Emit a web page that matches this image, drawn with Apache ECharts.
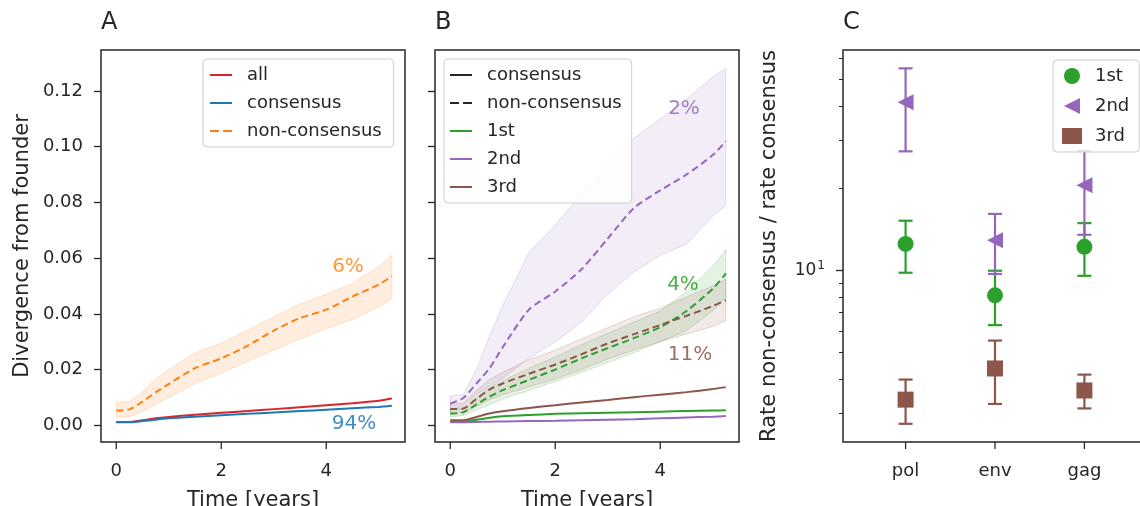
<!DOCTYPE html>
<html>
<head>
<meta charset="utf-8">
<script src="https://cdn.jsdelivr.net/npm/echarts@6/dist/echarts.min.js"></script>
<style>
  html, body { margin: 0; padding: 0; background: #fff; }
  #chart { width: 1140px; height: 506px; }
</style>
</head>
<body>
<div id="chart"></div>
<script>
// shared axes
const years = [0, 0.25, 0.5, 0.75, 1, 1.5, 2, 2.5, 3, 3.5, 4, 4.5, 5, 5.25];
const timeTicks = [0, 2, 4];
const divTicks = [0, 0.02, 0.04, 0.06, 0.08, 0.1, 0.12];
const timeRange = [-0.29, 5.5];
const divRange = [-0.006, 0.1347];

// panel A
const allMean = [0.0012, 0.0012, 0.0018, 0.0025, 0.003, 0.0038, 0.0045, 0.0051, 0.0058, 0.0065, 0.0072, 0.0079, 0.0088, 0.0096];
const consMean = [0.0011, 0.0011, 0.0015, 0.002, 0.0025, 0.0031, 0.0036, 0.0041, 0.0046, 0.0051, 0.0056, 0.0061, 0.0066, 0.007];
const nonConsMean = [0.0053, 0.0057, 0.0085, 0.0118, 0.0148, 0.0205, 0.024, 0.0285, 0.034, 0.0385, 0.0415, 0.0462, 0.0505, 0.0535];
const nonConsLo = [0.003, 0.0032, 0.005, 0.0075, 0.01, 0.015, 0.0187, 0.023, 0.027, 0.031, 0.0347, 0.038, 0.0425, 0.0455];
const nonConsHi = [0.0082, 0.0085, 0.012, 0.0165, 0.02, 0.026, 0.0295, 0.034, 0.039, 0.0435, 0.047, 0.051, 0.057, 0.061];

// panel B
const firstCons = [0.0013, 0.0013, 0.002, 0.0027, 0.0032, 0.0037, 0.0041, 0.0043, 0.0045, 0.0047, 0.0049, 0.0051, 0.0053, 0.0054];
const secondCons = [0.0011, 0.0011, 0.0012, 0.0013, 0.0014, 0.0015, 0.0016, 0.0018, 0.002, 0.0022, 0.0025, 0.0028, 0.0031, 0.0033];
const thirdCons = [0.0018, 0.0018, 0.003, 0.0042, 0.005, 0.0062, 0.0072, 0.0082, 0.0091, 0.0101, 0.011, 0.0119, 0.013, 0.0137];
const firstNon = [0.0042, 0.0047, 0.0075, 0.0103, 0.0126, 0.0163, 0.02, 0.024, 0.0277, 0.0313, 0.0352, 0.041, 0.049, 0.0545];
const firstNonLo = [0.003, 0.0035, 0.0055, 0.0075, 0.0095, 0.0125, 0.0158, 0.019, 0.0225, 0.026, 0.03, 0.034, 0.041, 0.046];
const firstNonHi = [0.0055, 0.0062, 0.01, 0.0135, 0.016, 0.0205, 0.0245, 0.029, 0.033, 0.037, 0.041, 0.048, 0.057, 0.063];
const secondNon = [0.0078, 0.0098, 0.015, 0.0205, 0.028, 0.0415, 0.048, 0.056, 0.067, 0.078, 0.0843, 0.09, 0.097, 0.102];
const secondNonLo = [0.0055, 0.007, 0.011, 0.014, 0.017, 0.024, 0.03, 0.037, 0.047, 0.055, 0.061, 0.065, 0.075, 0.079];
const secondNonHi = [0.0105, 0.011, 0.02, 0.032, 0.043, 0.062, 0.072, 0.083, 0.093, 0.103, 0.11, 0.117, 0.125, 0.128];
const thirdNon = [0.0058, 0.006, 0.0095, 0.0128, 0.015, 0.0185, 0.0218, 0.0255, 0.0294, 0.0327, 0.036, 0.0393, 0.0428, 0.0449];
const thirdNonLo = [0.0042, 0.0045, 0.0068, 0.0092, 0.011, 0.0138, 0.0166, 0.02, 0.0238, 0.027, 0.03, 0.0328, 0.0355, 0.0375];
const thirdNonHi = [0.0075, 0.008, 0.0125, 0.0165, 0.019, 0.0235, 0.027, 0.031, 0.035, 0.039, 0.042, 0.046, 0.05, 0.0525];

// panel C (ratio, log scale)
const subsets = ['pol', 'env', 'gag'];
const subsetTicks = [0, 1, 2];
const subsetRange = [-0.7, 2.7];
const ratioRange = [2.35, 64.2];
const ratioTicks = [10];
const ratioMinorTicks = [3, 4, 5, 6, 7, 8, 9, 20, 30, 40, 50, 60];
const firstRatio = [12.5, 8.1, 12.2];
const firstRatioLo = [9.8, 6.3, 9.55];
const firstRatioHi = [15.2, 9.97, 14.9];
const secondRatio = [41.3, 12.9, 20.5];
const secondRatioLo = [27.3, 9.7, 13.5];
const secondRatioHi = [55.0, 16.1, 27.4];
const thirdRatio = [3.36, 4.37, 3.63];
const thirdRatioLo = [2.74, 3.24, 3.12];
const thirdRatioHi = [3.98, 5.53, 4.15];

const ink = '#262626';
const RED = '#d62728', BLUE = '#1f77b4', ORANGE = '#ff7f0e';
const GREEN = '#2ca02c', PURPLE = '#9467bd', BROWN = '#8c564b';
const leftTri = 'path://M0,5 L10,0 L10,10 Z';
const solidIcon = 'path://M0,0 L22,0 L22,2 L0,2 Z';
const dashIcon = 'path://M0,0 L9,0 L9,2 L0,2 Z M13,0 L22,0 L22,2 L13,2 Z';

const zip = (xs, ys) => xs.map((x, i) => [x, ys[i]]);

function line(name, axis, ys, color, dashed) {
  return {
    name: name, type: 'line', xAxisIndex: axis, yAxisIndex: axis,
    data: zip(years, ys), symbol: 'none', smooth: 0.25, z: 3,
    color: color,
    lineStyle: { color: color, width: 2, type: dashed ? [7, 4] : 'solid' }
  };
}

// shaded spread between lo and hi, drawn as one polygon
function band(axis, lo, hi, color, opacity) {
  return {
    type: 'custom', xAxisIndex: axis, yAxisIndex: axis, silent: true, z: 1,
    data: years.map((t, i) => [t, lo[i], hi[i]]),
    encode: { x: 0, y: [1, 2] },
    renderItem: function (params, api) {
      if (params.dataIndex !== 0) return;
      const upper = years.map((t, i) => api.coord([t, hi[i]]));
      const lower = years.map((t, i) => api.coord([t, lo[i]])).reverse();
      return {
        type: 'polygon',
        shape: { points: upper.concat(lower) },
        style: {
          fill: echarts.color.modifyAlpha(color, opacity),
          stroke: echarts.color.modifyAlpha(color, 0.2),
          lineWidth: 1
        }
      };
    }
  };
}

// dummy series so legend B can show its own entries
function legendLine(name, color) {
  return {
    name: name, type: 'line', xAxisIndex: 1, yAxisIndex: 1, data: [], symbol: 'none', color: color,
    lineStyle: { color: color, width: 2 }
  };
}

function errorBars(name, lo, hi, color) {
  return {
    name: name, type: 'custom', xAxisIndex: 2, yAxisIndex: 2, silent: true, z: 2,
    data: subsets.map((s, i) => [i, lo[i], hi[i]]),
    encode: { x: 0, y: [1, 2] },
    renderItem: function (params, api) {
      const x = api.value(0);
      const top = api.coord([x, api.value(2)]);
      const bot = api.coord([x, api.value(1)]);
      const cap = 7;
      const style = { stroke: color, lineWidth: 2.2, fill: null };
      return {
        type: 'group',
        children: [
          { type: 'line', shape: { x1: top[0], y1: top[1], x2: bot[0], y2: bot[1] }, style: style },
          { type: 'line', shape: { x1: top[0] - cap, y1: top[1], x2: top[0] + cap, y2: top[1] }, style: style },
          { type: 'line', shape: { x1: bot[0] - cap, y1: bot[1], x2: bot[0] + cap, y2: bot[1] }, style: style }
        ]
      };
    }
  };
}

function markers(name, ys, symbol, color) {
  return {
    name: name, type: 'scatter', xAxisIndex: 2, yAxisIndex: 2, z: 3,
    data: subsets.map((s, i) => [i, ys[i]]),
    symbol: symbol, symbolSize: 16,
    itemStyle: { color: color, opacity: 1 }
  };
}

const tickStyle = () => ({ color: ink, width: 1.3 });

function timeAxis(gridIndex) {
  return {
    type: 'value', gridIndex: gridIndex, min: timeRange[0], max: timeRange[1],
    name: 'Time [years]', nameLocation: 'middle', nameGap: 48,
    nameTextStyle: { fontSize: 21, color: ink },
    axisLine: { show: false, onZero: false }, splitLine: { show: false },
    axisTick: { show: false },
    axisLabel: { fontSize: 18, color: ink, margin: 20, customValues: timeTicks }
  };
}

function divAxis(gridIndex, withLabels) {
  return {
    type: 'value', gridIndex: gridIndex, min: divRange[0], max: divRange[1],
    name: withLabels ? 'Divergence from founder' : '', nameLocation: 'middle', nameGap: 68,
    nameTextStyle: { fontSize: 21, color: ink },
    axisLine: { show: false, onZero: false }, splitLine: { show: false },
    axisTick: { length: 7, lineStyle: tickStyle(), customValues: divTicks },
    axisLabel: {
      show: withLabels, fontSize: 18, color: ink, margin: 18, customValues: divTicks,
      formatter: v => v.toFixed(2)
    }
  };
}

// tick-only axes for panel C
function ratioTickAxis(values, len) {
  return {
    type: 'log', gridIndex: 2, min: ratioRange[0], max: ratioRange[1], logBase: 10, position: 'left',
    axisLine: { show: false, onZero: false }, splitLine: { show: false },
    axisTick: { show: true, length: len, lineStyle: { color: ink, width: len > 5 ? 1.3 : 1 }, customValues: values },
    axisLabel: { show: false }
  };
}

const legendBase = {
  orient: 'vertical', itemGap: 10, itemWidth: 22, itemHeight: 2,
  backgroundColor: 'rgba(255,255,255,0.8)', borderColor: '#cccccc', borderWidth: 1, borderRadius: 4,
  textStyle: { fontSize: 18, lineHeight: 18, color: ink, padding: [0, 0, 0, 10] },
  formatter: name => name.indexOf(':') >= 0 ? name.split(':')[1] : name
};

const gridBase = { top: 50, width: 304, height: 392, show: true, borderColor: ink, borderWidth: 1.5, outerBoundsMode: 'none' };

const labels = [
  { type: 'text', left: 101, top: 11, style: { text: 'A', font: '24px "DejaVu Sans"', fill: ink } },
  { type: 'text', left: 435, top: 11, style: { text: 'B', font: '24px "DejaVu Sans"', fill: ink } },
  { type: 'text', left: 843, top: 11, style: { text: 'C', font: '24px "DejaVu Sans"', fill: ink } },
  { type: 'text', x: 348, y: 267, style: { text: '6%', font: '20px "DejaVu Sans"', fill: 'rgba(255,127,14,0.8)', align: 'center', verticalAlign: 'middle' } },
  { type: 'text', x: 354, y: 424, style: { text: '94%', font: '20px "DejaVu Sans"', fill: 'rgba(31,119,180,0.85)', align: 'center', verticalAlign: 'middle' } },
  { type: 'text', x: 684, y: 109, style: { text: '2%', font: '20px "DejaVu Sans"', fill: 'rgba(148,103,189,0.85)', align: 'center', verticalAlign: 'middle' } },
  { type: 'text', x: 683, y: 285, style: { text: '4%', font: '20px "DejaVu Sans"', fill: 'rgba(44,160,44,0.85)', align: 'center', verticalAlign: 'middle' } },
  { type: 'text', x: 690, y: 355, style: { text: '11%', font: '20px "DejaVu Sans"', fill: 'rgba(140,86,75,0.85)', align: 'center', verticalAlign: 'middle' } }
];

const chart = echarts.init(document.getElementById('chart'));
const option = {
  animation: false,
  backgroundColor: '#fff',
  textStyle: { fontFamily: 'DejaVu Sans', color: ink },
  grid: [
    Object.assign({ left: 101 }, gridBase),
    Object.assign({ left: 435 }, gridBase),
    Object.assign({ left: 843 }, gridBase)
  ],
  xAxis: [
    timeAxis(0),
    timeAxis(1),
    {
      type: 'value', gridIndex: 2, min: subsetRange[0], max: subsetRange[1], position: 'bottom',
      axisLine: { show: false, onZero: false }, splitLine: { show: false },
      axisTick: { show: false },
      axisLabel: { fontSize: 18, color: ink, margin: 20, customValues: subsetTicks, formatter: v => subsets[v] }
    }
  ],
  yAxis: [
    divAxis(0, true),
    divAxis(1, false),
    {
      type: 'log', gridIndex: 2, min: ratioRange[0], max: ratioRange[1], logBase: 10, position: 'left',
      name: 'Rate non-consensus / rate consensus', nameLocation: 'middle', nameGap: 63,
      nameTextStyle: { fontSize: 21, color: ink },
      axisLine: { show: false, onZero: false }, splitLine: { show: false },
      axisTick: { show: false },
      axisLabel: {
        fontSize: 17, color: ink, margin: 18, customValues: ratioTicks,
        formatter: () => '{b|10}{s|1}',
        rich: { b: { fontSize: 17, color: ink }, s: { fontSize: 12, color: ink, padding: [0, 0, 9, 1] } }
      }
    },
    ratioTickAxis(ratioMinorTicks, 4),
    ratioTickAxis(ratioTicks, 7)
  ],
  legend: [
    Object.assign({}, legendBase, {
      left: 203, top: 59, padding: [7, 12, 7, 7],
      data: [
        { name: 'all', icon: solidIcon },
        { name: 'consensus', icon: solidIcon },
        { name: 'non-consensus', icon: dashIcon }
      ]
    }),
    Object.assign({}, legendBase, {
      left: 444, top: 59, padding: [7, 10, 7, 6],
      data: [
        { name: 'B:consensus', icon: solidIcon },
        { name: 'B:non-consensus', icon: dashIcon },
        { name: 'B:1st', icon: solidIcon },
        { name: 'B:2nd', icon: solidIcon },
        { name: 'B:3rd', icon: solidIcon }
      ]
    }),
    Object.assign({}, legendBase, {
      left: 1053, top: 60, padding: [7, 10, 7, 9], itemWidth: 20, itemHeight: 16, itemGap: 12,
      textStyle: { fontSize: 18, lineHeight: 16, color: ink, padding: [0, 0, 0, 8] },
      data: ['C:1st', 'C:2nd', 'C:3rd']
    })
  ],
  graphic: labels,
  series: [
    band(0, nonConsLo, nonConsHi, ORANGE, 0.13),
    line('all', 0, allMean, RED, false),
    line('consensus', 0, consMean, BLUE, false),
    line('non-consensus', 0, nonConsMean, ORANGE, true),

    band(1, secondNonLo, secondNonHi, PURPLE, 0.12),
    band(1, firstNonLo, firstNonHi, GREEN, 0.12),
    band(1, thirdNonLo, thirdNonHi, BROWN, 0.12),
    line('1st consensus', 1, firstCons, GREEN, false),
    line('2nd consensus', 1, secondCons, PURPLE, false),
    line('3rd consensus', 1, thirdCons, BROWN, false),
    line('1st non-consensus', 1, firstNon, GREEN, true),
    line('2nd non-consensus', 1, secondNon, PURPLE, true),
    line('3rd non-consensus', 1, thirdNon, BROWN, true),
    legendLine('B:consensus', ink),
    legendLine('B:non-consensus', ink),
    legendLine('B:1st', GREEN),
    legendLine('B:2nd', PURPLE),
    legendLine('B:3rd', BROWN),

    errorBars('1st err', firstRatioLo, firstRatioHi, GREEN),
    errorBars('2nd err', secondRatioLo, secondRatioHi, PURPLE),
    errorBars('3rd err', thirdRatioLo, thirdRatioHi, BROWN),
    markers('C:1st', firstRatio, 'circle', GREEN),
    markers('C:2nd', secondRatio, leftTri, PURPLE),
    markers('C:3rd', thirdRatio, 'rect', BROWN)
  ]
};
chart.setOption(option);

// bottom ticks: the x axes would not draw them, so place them from the axes' own pixel mapping
const tickMarks = [];
[[0, timeTicks, divRange[0]], [1, timeTicks, divRange[0]], [2, subsetTicks, ratioRange[0]]].forEach(function (p) {
  const yBottom = chart.convertToPixel({ yAxisIndex: p[0] }, p[2]);
  p[1].forEach(function (v) {
    const x = chart.convertToPixel({ xAxisIndex: p[0] }, v);
    tickMarks.push({
      type: 'line', silent: true, z: 10,
      shape: { x1: x, y1: yBottom, x2: x, y2: yBottom + 7 },
      style: { stroke: ink, lineWidth: 1.3 }
    });
  });
});
chart.setOption({ graphic: labels.concat(tickMarks) });

window.addEventListener('resize', function () {
  chart.resize();
});
</script>
</body>
</html>
